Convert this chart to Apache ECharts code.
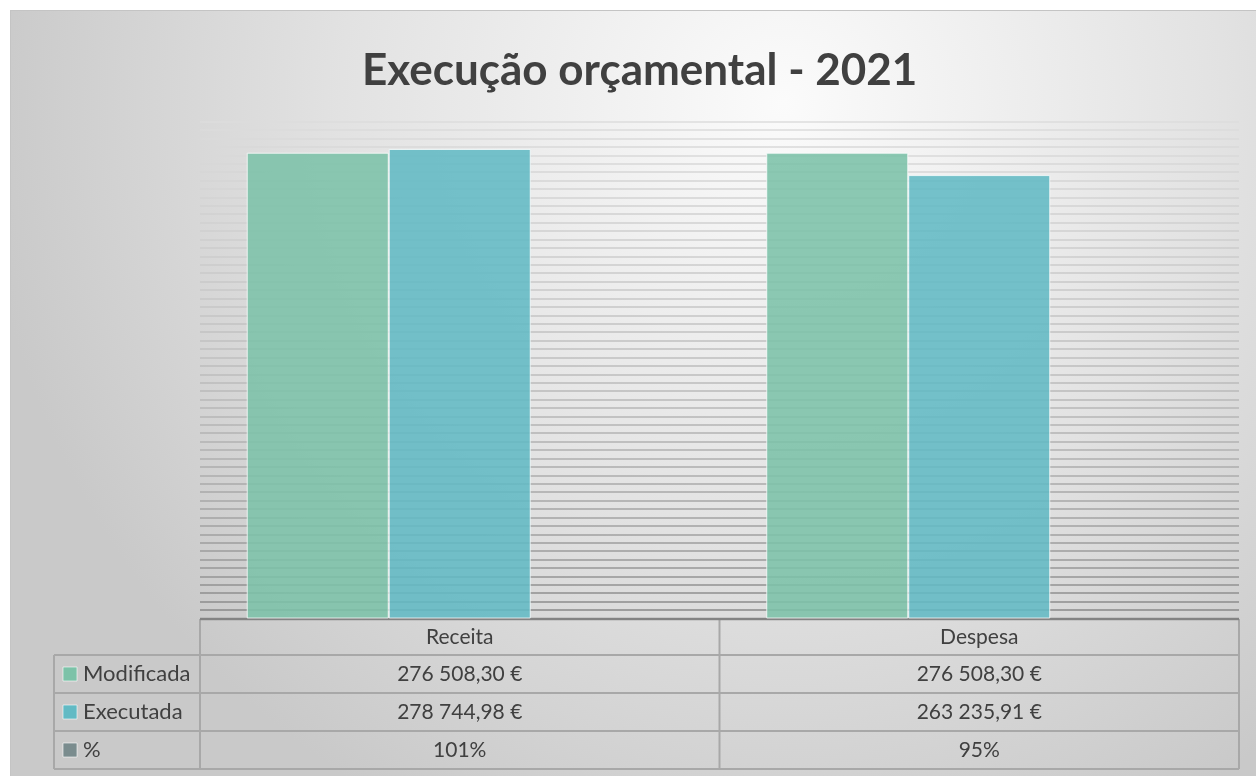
<!DOCTYPE html>
<html>
<head>
<meta charset="utf-8">
<script src="https://cdn.jsdelivr.net/npm/echarts@6/dist/echarts.min.js"></script>
<style>
  body{margin:0;background:#fff;}
  #chart{position:absolute;left:10px;top:10px;width:1245px;height:765px;border-top:1px solid #c4c4c4;border-left:1px solid #c4c4c4;}
</style>
</head>
<body>
<div id="chart"></div>
<script>
// dados
var categorias=['Receita','Despesa'];
var modificada=[276508.30,276508.30];
var executada=[278744.98,263235.91];
var percentagem=[101,95];
var series_nomes=['Modificada','Executada','%'];
var cores=['#7cc2a8','#62bac4','#7a8c8e'];

function euro(v){                                   // 276 508,30 €
    var p=v.toFixed(2).split('.');
    return p[0].replace(/\B(?=(\d{3})+(?!\d))/g,' ')+','+p[1]+' €';
}

var gLeft=189,gTop=110.6,gW=1039,gH=496.9;          // area do grafico
var rowY=[608,644,682,720,758];                     // linhas da tabela
var labLeft=43;
var fonte='Lato, "Open Sans", sans-serif';

// cores das linhas de grelha: escuras em baixo, claras em cima
var gridCores=[];
for (var i=0;i<=59;i++){
    var t=i/59;
    var c=Math.round(128+(220-128)*Math.pow(t,0.6));
    gridCores.push('rgb('+c+','+c+','+c+')');
}

var graficos=[];
var linha={stroke:'#a8a8a8',lineWidth:2};
var colX=[gLeft,gLeft+gW/2,gLeft+gW];
// linhas verticais
for (var i=0;i<colX.length;i++){
    graficos.push({type:'line',shape:{x1:colX[i],y1:rowY[0],x2:colX[i],y2:rowY[4]},style:linha,silent:true});
}
graficos.push({type:'line',shape:{x1:labLeft,y1:rowY[1],x2:labLeft,y2:rowY[4]},style:linha,silent:true});
// linhas horizontais
for (var r=0;r<rowY.length;r++){
    var x1=r==0?colX[0]:labLeft;
    graficos.push({type:'line',shape:{x1:x1,y1:rowY[r],x2:colX[2],y2:rowY[r]},style:r==0?{stroke:'#8a8a8a',lineWidth:2.5}:linha,silent:true});
}
var txt={fill:'#404040',font:'21px '+fonte,align:'center',verticalAlign:'middle'};
var linhasTabela=[
    modificada.map(euro),
    executada.map(euro),
    percentagem.map(function(p){return p+'%';})
];
for (var c=0;c<categorias.length;c++){
    var cx=(colX[c]+colX[c+1])/2;
    graficos.push({type:'text',x:cx,y:(rowY[0]+rowY[1])/2,style:Object.assign({text:categorias[c]},txt)});
    for (var r=0;r<linhasTabela.length;r++){
        graficos.push({type:'text',x:cx,y:(rowY[r+1]+rowY[r+2])/2,style:Object.assign({text:linhasTabela[r][c]},txt)});
    }
}
for (var r=0;r<series_nomes.length;r++){
    var cy=(rowY[r+1]+rowY[r+2])/2;
    graficos.push({type:'rect',shape:{x:labLeft+9,y:cy-7,width:14,height:14},style:{fill:cores[r],stroke:'rgba(255,255,255,0.6)',lineWidth:1},silent:true});
    graficos.push({type:'text',x:labLeft+29,y:cy,style:{text:series_nomes[r],fill:'#404040',font:'22px '+fonte,align:'left',verticalAlign:'middle'}});
}

var option={
    backgroundColor:{
        type:'radial',x:0.62,y:0.12,r:1.05,
        colorStops:[{offset:0,color:'#fbfbfb'},{offset:0.55,color:'#e2e2e2'},{offset:1,color:'#c9c9c9'}]
    },
    animation:false,
    title:{
        text:'Execução orçamental - 2021',
        left:346,top:33,
        textStyle:{fontFamily:fonte,fontSize:44,fontWeight:'bold',color:'#404040'}
    },
    grid:{left:gLeft,top:gTop,width:gW,height:gH,containLabel:false},
    xAxis:{
        type:'category',data:categorias,
        axisLine:{show:false},axisTick:{show:false},axisLabel:{show:false}
    },
    yAxis:{
        type:'value',min:0,max:295000,interval:5000,
        axisLine:{show:false},axisTick:{show:false},axisLabel:{show:false},
        splitLine:{show:true,lineStyle:{color:gridCores,width:1.6}}
    },
    series:[
        {name:'Modificada',type:'bar',data:modificada,barGap:'0%',barCategoryGap:'18%',
            itemStyle:{color:cores[0],opacity:0.88,borderColor:'rgba(255,255,255,0.85)',borderWidth:1}},
        {name:'Executada',type:'bar',data:executada,
            itemStyle:{color:cores[1],opacity:0.88,borderColor:'rgba(255,255,255,0.85)',borderWidth:1}},
        {name:'%',type:'bar',data:percentagem.map(function(p){return p/100;}),
            itemStyle:{color:cores[2],opacity:0.88}}
    ],
    graphic:graficos
};
var myChart=echarts.init(document.getElementById('chart'));
option && myChart.setOption(option);
</script>
</body>
</html>
